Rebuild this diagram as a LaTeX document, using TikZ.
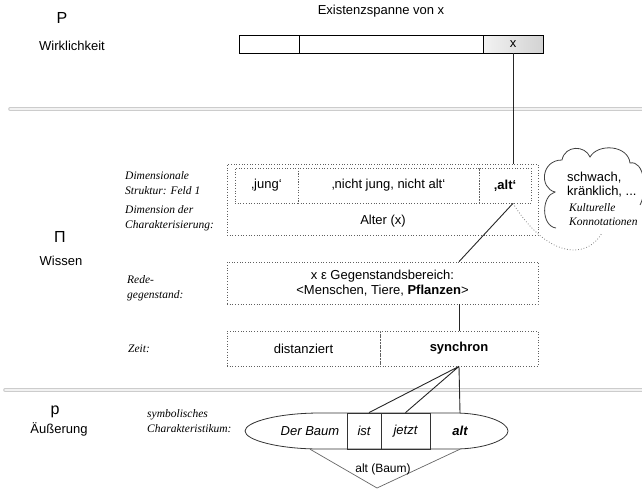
\documentclass[tikz,border=0pt]{standalone}
\usepackage{fontspec}
\setmainfont{Liberation Sans}
\newfontfamily\lblfont{Liberation Serif}
\usetikzlibrary{positioning}

\tikzset{
  sf/.style={font=\fontsize{13}{15}\selectfont},
  big/.style={font=\fontsize{16}{18}\selectfont},
  lbl/.style={font=\lblfont\itshape\fontsize{11.5}{15.5}\selectfont, align=left, anchor=west, inner sep=0pt},
  seg/.style={draw, line width=0.6pt, minimum height=18pt, inner sep=0pt, sf},
  dotbox/.style={draw=gray!75!black, dotted, line width=0.7pt, inner sep=0pt, sf},
  wordbox/.style={draw=black!80, line width=0.8pt, minimum height=36pt, inner sep=0pt, sf},
  link/.style={line width=0.9pt, black!85}
}

\begin{document}
\begin{tikzpicture}[x=1pt, y=-1pt]
\useasboundingbox (0,0) rectangle (642,490);
% Trennlinien
\foreach \y/\x in {109/10, 390/5} {
  \draw[line width=3.6pt, gray!40, line cap=round] (\x,\y) -- (660,\y);
  \draw[line width=1.4pt, gray!10, line cap=round] (\x,\y) -- (660,\y);
}

% Wirklichkeit
\node[big] (P) at (62,18) {P};
\node[sf] (wirk) at (72,46) {Wirklichkeit};
\node[sf] (span) at (381,11) {Existenzspanne von x};
\node[seg, minimum width=60pt] (bar1) at (269,44) {};
\node[seg, minimum width=184pt] (bar2) at (391,44) {};
\node[seg, minimum width=60pt, left color=gray!10, right color=gray!35] (barx) at (513,44) {x};

% Wissen
\node[big] (Pi) at (60,237) {Π};
\node[sf] (wissen) at (61,261) {Wissen};
\node[lbl] (dimS) at (125,183) {Dimensionale\\Struktur: Feld 1};
\node[lbl] (dimC) at (125,218) {Dimension der\\Charakterisierung:};
\node[dotbox, minimum width=311pt, minimum height=71pt] (dim) at (382.5,199.5) {};
\node[dotbox, minimum width=63pt, minimum height=35pt] (jung) at (266.5,185.5) {‚jung‘};
\node[dotbox, minimum width=181pt, minimum height=35pt] (mitte) at (388.5,185.5) {‚nicht jung, nicht alt‘};
\node[dotbox, minimum width=52pt, minimum height=35pt] (alt) at (505,185.5) {\textbf{‚alt‘}};
\node[sf] (alter) at (383,221) {Alter (x)};

% Wolke
\draw[line width=0.8pt, black!75]
  (556,228) .. controls (541,226) and (541,196) .. (555,192)
  .. controls (539,188) and (541,160) .. (562,160)
  .. controls (565,145) and (585,145) .. (590,157)
  .. controls (598,143) and (628,145) .. (630,163)
  .. controls (644,160) and (648,190) .. (640,205);
\node[sf, font=\fontsize{13}{14}\selectfont, align=left, anchor=west, inner sep=0pt] (konn) at (567,185) {schwach,\\kränklich, ...};
\node[lbl, font=\lblfont\itshape\fontsize{11.5}{14}\selectfont] (kult) at (569,215) {Kulturelle\\Konnotationen};

\node[lbl] (rede) at (127,288) {Rede-\\gegenstand:};
\node[dotbox, minimum width=311pt, minimum height=42pt, align=center] (gegen) at (382.5,283)
  {x ε Gegenstandsbereich:\\<Menschen, Tiere, \textbf{Pflanzen}>};

\node[lbl] (zeitL) at (128,349) {Zeit:};
\node[dotbox, minimum width=153pt, minimum height=35pt] (dist) at (303.5,348.5) {distanziert};
\node[dotbox, minimum width=158pt, minimum height=35pt] (sync) at (459,348.5) {\textbf{synchron}};

% Äußerung
\node[big] (p) at (55,412) {p};
\node[sf] (aeuss) at (59,429) {Äußerung};
\node[lbl] (symb) at (147,421) {symbolisches\\Charakteristikum:};
\draw[line width=0.8pt, black!80] (320,413) -- (455,413)
  .. controls (484,413) and (508,422) .. (508,431)
  .. controls (508,440) and (484,449) .. (455,449) -- (320,449)
  .. controls (278,449) and (245,440) .. (245,431)
  .. controls (245,422) and (278,413) .. cycle;
\node[sf, font=\fontsize{13}{15}\selectfont\itshape, minimum height=36pt] (baum) at (310,431) {Der Baum};
\node[wordbox, minimum width=34pt, font=\fontsize{13}{15}\selectfont\itshape] (ist) at (364,431) {ist};
\node[wordbox, minimum width=49pt, font=\fontsize{13}{15}\selectfont\itshape] (jetzt) at (405.5,431) {jetzt};
\node[sf, font=\fontsize{13}{15}\selectfont\bfseries\itshape, minimum height=36pt] (altw) at (460,431) {alt};
\coordinate (vtip) at (377,488);
\draw[line width=0.7pt, gray!80!black] (baum.south) -- (vtip) -- (altw.south);
\node[sf, font=\fontsize{12}{14}\selectfont] (altbaum) at (383,469) {alt (Baum)};

% Verbindungen
\draw[link] (barx.south) -- (barx.south |- dim.north);
\coordinate (altfoot) at (barx.south |- alt.south);
\draw[link] (altfoot) -- (sync.north |- gegen.north);
\draw[link] (sync.north |- gegen.south) -- (sync.north);
\draw[link] (sync.south) -- ([xshift=5pt]ist.north)
            (sync.south) -- (jetzt.north)
            (sync.south) -- (altw.north);
\coordinate (tail) at (602,233);
\draw[gray, dotted, line width=0.8pt] (altfoot) .. controls (545,255) and (585,262) .. (tail);
\end{tikzpicture}
\end{document}
